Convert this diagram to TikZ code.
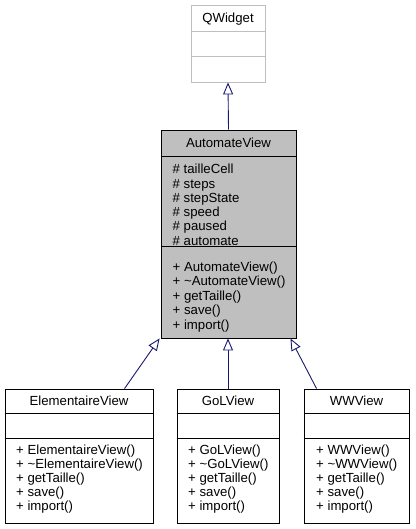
\documentclass[tikz,border=0pt]{standalone}
\usepackage{fontspec}
\setmainfont{Liberation Sans}
\usetikzlibrary{arrows.meta,calc}
\definecolor{edgeblue}{HTML}{191970}
\definecolor{nodegray}{HTML}{BFBFBF}
\definecolor{extgray}{HTML}{BFBFBF}
\begin{document}
\begin{tikzpicture}[x=1pt,y=-1pt,
  box/.style={draw=black, line width=0.9pt, rectangle, inner sep=0pt, fill=white},
  divline/.style={draw=black, line width=0.9pt},
  txt/.style={inner sep=0pt, font=\fontsize{13.2}{14.2}\selectfont},
  mem/.style={txt, anchor=base west},
  ttl/.style={txt, anchor=base},
  inh/.style={draw=edgeblue, line width=0.9pt, -{Triangle[open, length=12pt, width=10pt, fill=white]}}]
\useasboundingbox (0,0) rectangle (415,529);

% QWidget
\node[box, draw=extgray, minimum width=74, minimum height=77] (qw) at (228,43.5) {};
\draw[divline, draw=extgray] (qw.west |- 0,31.5) -- (qw.east |- 0,31.5);
\draw[divline, draw=extgray] (qw.west |- 0,56.5) -- (qw.east |- 0,56.5);
\node[ttl] (qwt) at (228,23) {QWidget};

% AutomateView
\node[box, fill=nodegray, minimum width=135, minimum height=208] (auto) at (228.5,234) {};
\draw[divline] (auto.west |- 0,156) -- (auto.east |- 0,156);
\draw[divline] (auto.west |- 0,246) -- (auto.east |- 0,246);
\node[ttl] (autot) at (228.5,148) {AutomateView};
\foreach \t [count=\i from 0] in {\# tailleCell, \# steps, \# stepState, \# speed, \# paused, \# automate}
  \node[mem] (aa\i) at (172.5,174+14.2*\i) {\t};
\foreach \t [count=\i from 0] in {+ AutomateView(), + \textasciitilde AutomateView(), + getTaille(), + save(), + import()}
  \node[mem] (am\i) at (172.5,271+14.5*\i) {\t};

% ElementaireView
\node[box, minimum width=148, minimum height=134] (elem) at (79,456) {};
\draw[divline] (elem.west |- 0,413) -- (elem.east |- 0,413);
\draw[divline] (elem.west |- 0,438) -- (elem.east |- 0,438);
\node[ttl] (elemt) at (79,405) {ElementaireView};
\foreach \t [count=\i from 0] in {+ ElementaireView(), + \textasciitilde ElementaireView(), + getTaille(), + save(), + import()}
  \node[mem] (em\i) at (16,454+14.1*\i) {\t};

% GoLView
\node[box, minimum width=102, minimum height=134] (gol) at (228,456) {};
\draw[divline] (gol.west |- 0,413) -- (gol.east |- 0,413);
\draw[divline] (gol.west |- 0,438) -- (gol.east |- 0,438);
\node[ttl] (golt) at (228,405) {GoLView};
\foreach \t [count=\i from 0] in {+ GoLView(), + \textasciitilde GoLView(), + getTaille(), + save(), + import()}
  \node[mem] (gm\i) at (188,454+14.1*\i) {\t};

% WWView
\node[box, minimum width=105, minimum height=134] (ww) at (356.5,456) {};
\draw[divline] (ww.west |- 0,413) -- (ww.east |- 0,413);
\draw[divline] (ww.west |- 0,438) -- (ww.east |- 0,438);
\node[ttl] (wwt) at (356.5,405) {WWView};
\foreach \t [count=\i from 0] in {+ WWView(), + \textasciitilde WWView(), + getTaille(), + save(), + import()}
  \node[mem] (wm\i) at (316,454+14.1*\i) {\t};

% inheritance connectors
\draw[inh] (auto.north) -- (qw.south);
\draw[inh] (gol.north) -- (gol.north |- auto.south);
\draw[inh] ($(elem.north west)+(120,0)$) -- ($(auto.south west)+(-1,0)$);
\draw[inh] ($(ww.north west)+(13,0)$) -- ($(auto.south east)+(-6,0)$);
\end{tikzpicture}
\end{document}
